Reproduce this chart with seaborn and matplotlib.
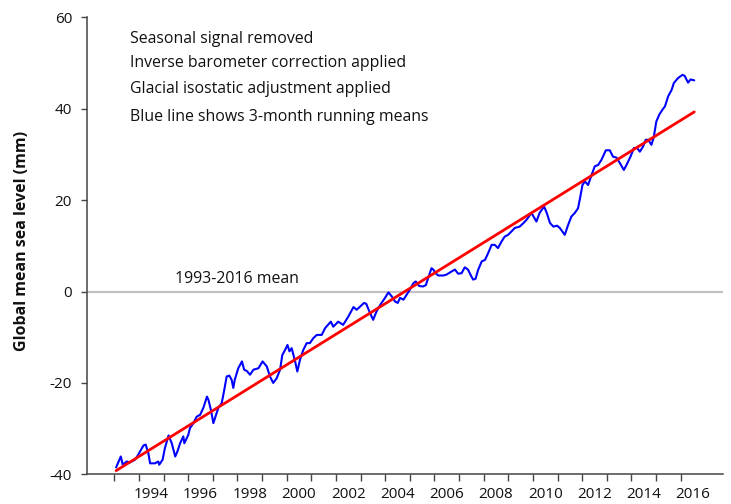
import matplotlib
matplotlib.use("Agg")
import matplotlib.pyplot as plt
import seaborn as sns
import pandas as pd
from matplotlib.ticker import FixedLocator, NullFormatter, FixedFormatter

# ---- data ----
years = [
    1993.07, 1993.26, 1993.34, 1993.50, 1993.63, 1993.84, 1993.97, 1994.18, 1994.27, 1994.38,
    1994.45, 1994.65, 1994.78, 1994.82, 1994.96, 1995.05, 1995.20, 1995.33, 1995.47, 1995.56,
    1995.67, 1995.80, 1995.84, 1996.00, 1996.07, 1996.21, 1996.34, 1996.48, 1996.61, 1996.76,
    1996.82, 1996.92, 1997.02, 1997.13, 1997.22, 1997.36, 1997.45, 1997.56, 1997.67, 1997.76,
    1997.83, 1997.89, 1998.03, 1998.18, 1998.27, 1998.38, 1998.51, 1998.65, 1998.85, 1999.02,
    1999.19, 1999.32, 1999.45, 1999.59, 1999.73, 1999.82, 1999.93, 2000.03, 2000.11, 2000.20,
    2000.34, 2000.43, 2000.54, 2000.67, 2000.81, 2000.94, 2001.08, 2001.22, 2001.42, 2001.56,
    2001.79, 2001.89, 2002.09, 2002.29, 2002.50, 2002.71, 2002.84, 2002.98, 2003.14, 2003.23,
    2003.38, 2003.51, 2003.62, 2003.72, 2003.85, 2003.99, 2004.13, 2004.27, 2004.40, 2004.51,
    2004.60, 2004.74, 2004.87, 2005.00, 2005.14, 2005.24, 2005.38, 2005.54, 2005.65, 2005.74,
    2005.88, 2005.95, 2006.05, 2006.15, 2006.36, 2006.49, 2006.70, 2006.83, 2006.96, 2007.10,
    2007.23, 2007.36, 2007.46, 2007.57, 2007.67, 2007.77, 2007.92, 2008.05, 2008.18, 2008.32,
    2008.45, 2008.58, 2008.72, 2008.85, 2008.99, 2009.12, 2009.26, 2009.46, 2009.60, 2009.74,
    2009.94, 2010.14, 2010.27, 2010.45, 2010.56, 2010.69, 2010.83, 2010.98, 2011.09, 2011.29,
    2011.43, 2011.56, 2011.70, 2011.83, 2011.90, 2012.01, 2012.11, 2012.24, 2012.38, 2012.51,
    2012.65, 2012.78, 2012.96, 2013.12, 2013.25, 2013.39, 2013.53, 2013.69, 2013.80, 2013.96,
    2014.10, 2014.23, 2014.34, 2014.47, 2014.58, 2014.68, 2014.81, 2014.90, 2015.01, 2015.13,
    2015.26, 2015.36, 2015.49, 2015.63, 2015.72, 2015.89, 2016.07, 2016.16, 2016.30, 2016.40,
    2016.55,
]
gmsl_mm = [
    -38.5, -36.1, -37.9, -37.2, -37.4, -36.8, -35.7, -33.7, -33.5, -35.4,
    -37.6, -37.6, -37.2, -37.9, -36.8, -34.3, -31.5, -33.2, -36.1, -35.0,
    -33.2, -31.7, -33.2, -31.4, -29.9, -28.8, -27.4, -27.0, -25.5, -23.0,
    -23.7, -25.9, -28.8, -27.0, -25.5, -24.4, -21.9, -18.6, -18.4, -19.3,
    -21.1, -19.3, -16.8, -15.3, -17.1, -17.4, -18.2, -17.1, -16.8, -15.3,
    -16.4, -18.6, -20.0, -19.0, -17.1, -13.9, -12.8, -11.7, -13.1, -12.4,
    -15.3, -17.5, -14.9, -12.8, -11.3, -11.3, -10.2, -9.5, -9.5, -8.0,
    -6.6, -7.7, -6.6, -7.3, -5.5, -3.4, -4.0, -3.3, -2.5, -2.7,
    -4.7, -6.2, -4.7, -3.6, -2.5, -1.4, -0.2, -1.1, -2.2, -2.5,
    -1.4, -1.8, -0.7, 0.4, 1.8, 2.2, 1.2, 1.1, 1.4, 2.9,
    5.1, 4.8, 4.0, 3.5, 3.5, 3.7, 4.4, 4.8, 3.9, 4.0,
    5.3, 4.8, 3.7, 2.6, 2.8, 4.7, 6.6, 6.9, 8.4, 10.2,
    10.2, 9.5, 10.9, 12.0, 12.4, 13.1, 13.9, 14.2, 14.9, 15.7,
    17.2, 15.3, 17.2, 18.6, 17.2, 15.0, 14.2, 14.4, 13.9, 12.4,
    14.6, 16.4, 17.2, 18.2, 20.1, 23.3, 24.1, 23.3, 25.5, 27.4,
    27.7, 28.8, 30.9, 30.9, 29.5, 29.3, 28.1, 26.6, 27.7, 29.5,
    31.4, 31.4, 30.6, 31.7, 33.2, 33.2, 32.1, 33.6, 37.2, 38.7,
    39.8, 40.5, 42.7, 44.1, 45.6, 46.7, 47.4, 47.2, 45.7, 46.4,
    46.2,
]
trend_years = [1993.07, 2016.55]
trend_mm = [-39.2, 39.3]

year_ticks = list(range(1993, 2017))
label_years = list(range(1994, 2017, 2))
y_ticks = [-40, -20, 0, 20, 40, 60]

notes = [
    "Seasonal signal removed",
    "Inverse barometer correction applied",
    "Glacial isostatic adjustment applied",
    "Blue line shows 3-month running means",
]
mean_label = "1993-2016 mean"
y_label = "Global mean sea level (mm)"

# ---- plotting ----
sns.set_theme(style="white")
plt.rcParams["font.family"] = ["Open Sans", "DejaVu Sans"]

fig = plt.figure(figsize=(7.31, 5.04), dpi=100)
ax = fig.add_axes([87.3 / 731, 1 - 474.3 / 504, (723.3 - 87.3) / 731, (474.3 - 17.3) / 504])

ax.axhline(0, color="#c4c0c4", lw=1.6, zorder=1)

df = pd.DataFrame({"year": years, "gmsl": gmsl_mm})
tr = pd.DataFrame({"year": trend_years, "gmsl": trend_mm})
sns.lineplot(data=df, x="year", y="gmsl", ax=ax, color="#0000ff", lw=1.5, zorder=3)
sns.lineplot(data=tr, x="year", y="gmsl", ax=ax, color="#ff0000", lw=2.0, zorder=4)

ax.set_xlim(1991.90, 2017.73)
ax.set_ylim(-40, 60)

for s in ["top", "right"]:
    ax.spines[s].set_visible(False)
for s in ["left", "bottom"]:
    ax.spines[s].set_color("#444444")
    ax.spines[s].set_linewidth(1.1)

ax.set_yticks(y_ticks)
ax.set_yticklabels([str(v) for v in y_ticks])
ax.tick_params(axis="y", which="major", length=4, width=1.0, color="#444444",
               pad=7, labelsize=11, labelcolor="#111111", left=True)

ax.xaxis.set_major_locator(FixedLocator(year_ticks))
ax.xaxis.set_major_formatter(NullFormatter())
ax.xaxis.set_minor_locator(FixedLocator([y + 0.5 for y in label_years]))
ax.xaxis.set_minor_formatter(FixedFormatter([str(y) for y in label_years]))
ax.tick_params(axis="x", which="major", length=4.8, width=1.0, color="#444444", bottom=True)
ax.tick_params(axis="x", which="minor", length=0, pad=9.5, labelsize=11,
               labelcolor="#111111", bottom=True)

ax.set_xlabel("")
ax.set_ylabel("")
fig.text(22 / 731, 1 - 241 / 504, y_label, rotation=90, ha="center", va="center",
         fontweight="bold", fontsize=11.5, color="#111111")

for i, t in enumerate(notes):
    yy = [39.3, 63.3, 89.3, 116.7][i]
    fig.text(130 / 731, 1 - yy / 504, t, fontsize=11.4, color="#111111",
             va="center", ha="left")
fig.text(175 / 731, 1 - 279.3 / 504, mean_label, fontsize=11.4, color="#111111",
         va="center", ha="left")

fig.savefig("out.png", dpi=100)
